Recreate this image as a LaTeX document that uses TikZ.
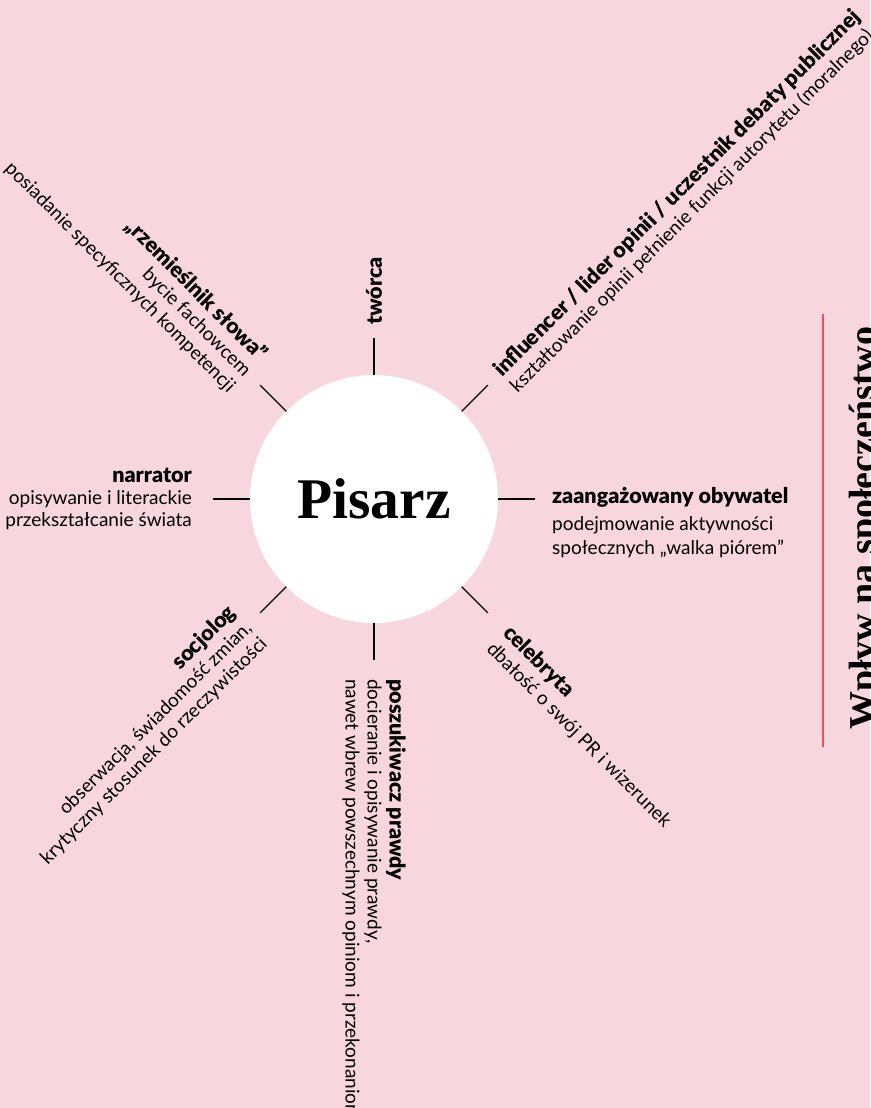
\documentclass[tikz,border=0pt]{standalone}
\usepackage{fontspec}
\setmainfont{Lato}[BoldFont={Lato Black}]
\newfontfamily\serifbold{Liberation Serif}
\definecolor{tlo}{RGB}{247,214,221}
\definecolor{czerwien}{RGB}{232,84,90}
\newcommand\Spoke[2][]{%
	\coordinate (k#2) at (#2:161);
	\draw[#1] (pisarz.#2) -- (k#2);
	}
\newcommand\Tytul[1]{{\bfseries\fontsize{21.5}{22}\selectfont #1}}

\begin{document}
\begin{tikzpicture}[x=1pt, y=1pt,
		title/.style={font=\bfseries\fontsize{21.5}{22}\selectfont, inner sep=0pt},
		opis/.style={font=\fontsize{19}{22}\selectfont, inner sep=0pt},
		spoke/.style={line width=1.3pt, black}]
	\useasboundingbox (-374,-609) rectangle (496,499);
	\fill[tlo] (-374,-609) rectangle (496,499);
	\node[circle, fill=white, minimum size=248pt, inner sep=0pt, outer sep=0pt,
		font=\serifbold\bfseries\fontsize{57.5}{57.5}\selectfont] (pisarz) at (0,0) {Pisarz};
	\Spoke[spoke]{0}
	\Spoke[spoke]{45}
	\Spoke[spoke]{90}
	\Spoke[spoke]{135}
	\Spoke[spoke]{180}
	\Spoke[spoke]{225}
	\Spoke[spoke]{270}
	\Spoke[spoke]{315}

	\node[title, rotate=90, anchor=west] (tworca) at (90:174) {twórca};
	\node[opis, align=right, anchor=east] (narrator) at (180:182)
		{\Tytul{narrator}\\opisywanie i literackie\\przekształcanie świata};
	\node[opis, align=right, anchor=east, rotate=-45] (rzemieslnik) at (135:178)
		{\Tytul{„rzemieślnik słowa”}\\bycie fachowcem\\posiadanie specyficznych kompetencji};
	\node[opis, align=right, anchor=east, rotate=45] (socjolog) at (225:178)
		{\Tytul{socjolog}\\obserwacja, świadomość zmian,\\krytyczny stosunek do rzeczywistości};
	\node[opis, align=left, anchor=west, rotate=-90] (poszukiwacz) at (270:180)
		{\Tytul{poszukiwacz prawdy}\\docieranie i opisywanie prawdy,\\nawet wbrew powszechnym opiniom i przekonaniom};

	% etykiety z pierwsza linia na szprysze
	\begin{scope}[shift={(45:176)}, rotate=45, transform shape]
		\node[title, anchor=base west] (influencer) at (0,-5) {influencer / lider opinii / uczestnik debaty publicznej};
		\node[opis, anchor=base west] (autorytet) at (0,-27) {kształtowanie opinii pełnienie funkcji autorytetu (moralnego)};
	\end{scope}
	\begin{scope}[shift={(0:178)}]
		\node[title, anchor=base west] (obywatel) at (0,-5) {zaangażowany obywatel};
		\node[opis, anchor=base west] (aktywnosc) at (0,-31) {podejmowanie aktywności};
		\node[opis, anchor=base west] (piorem) at (0,-56) {społecznych „walka piórem”};
	\end{scope}
	\begin{scope}[shift={(-45:186)}, rotate=-45, transform shape]
		\node[title, anchor=base west] (celebryta) at (0,-5) {celebryta};
		\node[opis, anchor=base west] (wizerunek) at (0,-28) {dbałość o swój PR i wizerunek};
	\end{scope}

	\coordinate (gora) at (449,185);
	\coordinate (dol) at (449,-248);
	\draw[czerwien, line width=2pt] (gora) -- (dol);
	\node[rotate=90, anchor=base west, inner sep=0pt, font=\serifbold\bfseries\fontsize{38}{38}\selectfont]
		(wplyw) at (501,-231) {Wpływ na społeczeństwo};
\end{tikzpicture}
\end{document}
